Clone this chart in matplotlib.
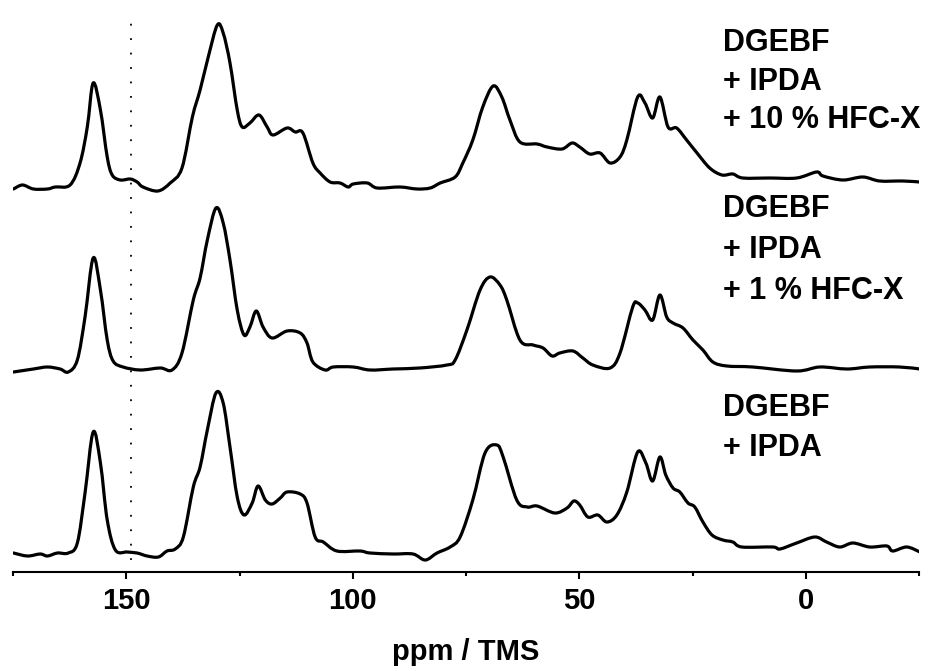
import matplotlib
matplotlib.use("Agg")
import matplotlib.pyplot as plt
from matplotlib.path import Path
from matplotlib.patches import PathPatch

plt.rcParams['font.family'] = ['Liberation Sans', 'DejaVu Sans']
plt.rcParams['font.weight'] = 'bold'

# 13C spectra, chemical shift (ppm) and intensity (a.u.)
ppm_10 = [174.9, 172.9, 170.5, 167.4, 165.7, 162.4, 160.2, 158.6, 157.3, 155.7,
          154.2, 153.1, 151.3, 149.1, 147.6, 146.3, 143.0, 140.3, 137.7, 135.4,
          133.7, 131.9, 129.9, 128.6, 127.1, 125.5, 124.4, 122.7, 120.7, 118.9,
          117.6, 114.5, 112.7, 111.0, 108.8, 107.2, 105.0, 102.8, 101.0, 99.9,
          96.8, 94.6, 89.6, 85.8, 82.9, 80.7, 77.4, 75.7, 73.5, 71.3,
          69.0, 67.1, 65.3, 63.1, 59.3, 57.1, 53.8, 51.6, 49.9, 47.7,
          45.4, 43.2, 41.0, 39.5, 37.1, 35.5, 33.8, 32.2, 30.4, 28.5,
          26.3, 24.0, 21.2, 18.5, 16.1, 13.9, 7.9, 2.0, -2.4, -3.8,
          -8.2, -12.6, -16.3, -21.4, -25.2]
int_10 = [-1, 3, -1, -1, 1, 3, 25, 61, 105, 78,
          31, 13, 8, 9, 6, 1, -3, 5, 20, 71,
          98, 131, 163, 155, 125, 78, 61, 65, 73, 61,
          53, 60, 56, 55, 25, 15, 6, 5, 1, 4,
          5, 0, 1, -1, 0, 5, 11, 25, 48, 81,
          102, 91, 68, 46, 44, 41, 39, 45, 41, 34,
          35, 25, 31, 48, 91, 85, 70, 91, 61, 60,
          48, 35, 20, 13, 14, 10, 10, 10, 16, 12,
          8, 11, 7, 7, 6]

ppm_1 = [174.9, 170.5, 167.4, 164.6, 162.8, 160.8, 159.1, 157.3, 155.7, 154.2,
         152.9, 150.7, 146.9, 142.5, 139.9, 137.7, 135.2, 133.7, 132.1, 130.2,
         128.6, 127.1, 125.5, 124.0, 122.7, 121.3, 119.8, 117.8, 114.5, 111.6,
         110.1, 108.8, 106.1, 104.3, 99.9, 96.2, 91.1, 85.2, 79.2, 77.4,
         74.8, 71.9, 69.7, 67.5, 66.0, 63.1, 60.2, 58.0, 56.0, 54.3,
         51.4, 49.2, 47.0, 43.2, 41.0, 38.2, 37.1, 35.5, 33.8, 32.2,
         30.7, 29.3, 27.1, 24.9, 22.7, 20.5, 17.4, 11.7, 2.0, -3.1,
         -9.1, -14.1, -20.7, -25.2]
int_1 = [-3, 0, 2, 0, -3, 9, 52, 111, 79, 29,
         8, 2, -1, 1, -1, 16, 69, 91, 129, 161,
         146, 109, 59, 34, 42, 58, 42, 31, 38, 36,
         26, 7, -1, 2, 2, -1, 0, 1, 4, 9,
         39, 79, 92, 84, 69, 29, 24, 21, 13, 16,
         18, 11, 4, 1, 16, 62, 66, 59, 49, 74,
         52, 46, 41, 29, 19, 7, 3, 2, -2, 2,
         0, 2, 2, 0]

ppm_0 = [174.9, 171.8, 169.0, 167.4, 165.2, 162.8, 160.8, 159.1, 157.3, 155.7,
         154.2, 152.4, 149.8, 147.6, 145.4, 142.9, 141.0, 139.2, 137.4, 135.2,
         133.7, 132.1, 130.2, 128.6, 127.1, 125.5, 124.0, 122.2, 120.9, 119.3,
         117.8, 116.0, 114.5, 111.6, 110.1, 108.3, 106.5, 103.5, 98.4, 96.2,
         91.1, 86.7, 84.0, 81.4, 78.5, 76.3, 73.5, 70.8, 68.2, 66.8,
         63.8, 61.5, 59.3, 55.4, 52.7, 51.2, 49.9, 48.1, 45.9, 43.9,
         41.7, 39.5, 37.1, 35.3, 33.8, 32.2, 30.9, 29.3, 27.8, 26.0,
         24.5, 22.7, 20.7, 18.3, 16.1, 14.1, 7.3, 5.7, 2.0, -2.0,
         -4.6, -7.5, -10.4, -14.1, -17.9, -19.2, -22.3, -25.2]
int_0 = [0, -3, -1, -3, 0, 0, 10, 60, 121, 90,
         33, 3, 1, 0, -3, -4, 2, 4, 16, 66,
         86, 123, 160, 150, 106, 56, 38, 50, 67, 53,
         49, 55, 61, 59, 50, 16, 11, 2, 2, 0,
         -1, -1, -7, 0, 6, 16, 53, 100, 108, 96,
         53, 46, 47, 40, 45, 52, 48, 36, 38, 31,
         38, 61, 101, 90, 72, 96, 78, 65, 61, 50,
         46, 31, 18, 13, 11, 6, 6, 4, 10, 16,
         11, 6, 10, 6, 7, 2, 6, 1]

labels = ["DGEBF\n+ IPDA\n+ 10 % HFC-X",
          "DGEBF\n+ IPDA\n+ 1 % HFC-X",
          "DGEBF\n+ IPDA"]
marker_ppm = 149

offsets = [365, 184, 0]


def smooth_path(xs, ys):
    # curve through every read point (Catmull-Rom drawn as cubic Beziers)
    pts = list(zip(xs, ys))
    verts = [pts[0]]
    codes = [Path.MOVETO]
    n = len(pts)
    for i in range(n - 1):
        p0 = pts[max(i - 1, 0)]
        p1 = pts[i]
        p2 = pts[i + 1]
        p3 = pts[min(i + 2, n - 1)]
        c1 = (p1[0] + (p2[0] - p0[0]) / 6, p1[1] + (p2[1] - p0[1]) / 6)
        c2 = (p2[0] - (p3[0] - p1[0]) / 6, p2[1] - (p3[1] - p1[1]) / 6)
        verts += [c1, c2, p2]
        codes += [Path.CURVE4] * 3
    return Path(verts, codes)


fig = plt.figure(figsize=(9.34, 6.71), dpi=100)
ax = fig.add_axes([13 / 934, 99 / 671, 906 / 934, 572 / 671])

for x, y, off in zip([ppm_10, ppm_1, ppm_0], [int_10, int_1, int_0], offsets):
    path = smooth_path(x, [v + off for v in y])
    ax.add_patch(PathPatch(path, facecolor='none', edgecolor='black', lw=2.3,
                           joinstyle='round', capstyle='round'))

ax.plot([marker_ppm, marker_ppm], [-7, 538], color='black', lw=1.3,
        linestyle=(0, (1, 7)))

ax.set_xlim(175, -25)
ax.set_ylim(-19, 553)
ax.set_xticks([150, 100, 50, 0])
ax.set_xticks([175, 125, 75, 25, -25], minor=True)
ax.tick_params(axis='x', which='major', direction='out', length=5, width=1.5,
               labelsize=21, pad=6)
ax.tick_params(axis='x', which='minor', direction='out', length=3, width=1.5)
ax.set_yticks([])
for s in ['left', 'right', 'top']:
    ax.spines[s].set_visible(False)
ax.spines['bottom'].set_linewidth(1.5)
ax.set_xlabel("ppm / TMS", fontsize=21, fontweight='bold', labelpad=16)

# sample labels, one line each, baselines in pixels from the top
label_rows = [[51, 90, 128], [217, 258, 299], [416, 456]]
for text, rows in zip(labels, label_rows):
    for line, yb in zip(text.split("\n"), rows):
        fig.text(723 / 934, 1 - yb / 671, line, fontsize=22, fontweight='bold',
                 va='baseline', ha='left')

fig.savefig("out.png", dpi=100)
